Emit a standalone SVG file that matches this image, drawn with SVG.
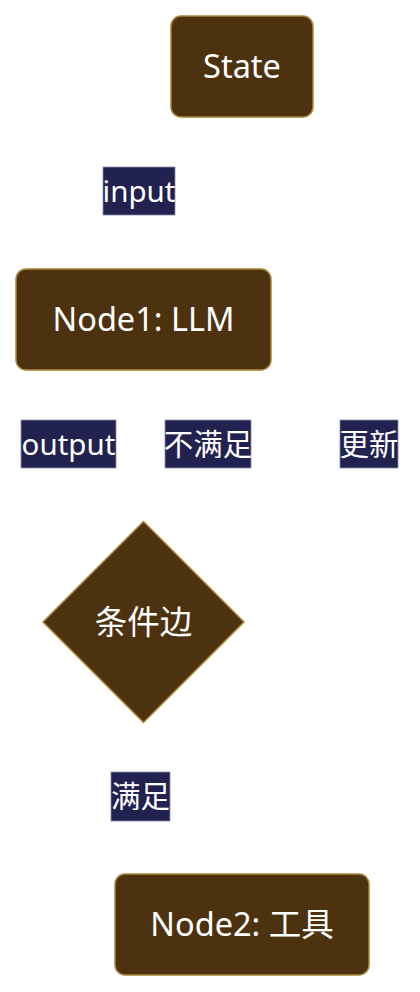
<svg xmlns="http://www.w3.org/2000/svg" width="420" height="992" viewBox="0 0 420 992">
<style>
.node{fill:#4d3210;stroke:#a8873a;stroke-width:1.5}
.lbl{fill:#222250;stroke:#8a8aa8;stroke-width:0.8}
.nt{fill:#ffffff;font-family:"Noto Sans","Noto Sans CJK SC",sans-serif;font-size:32.5px;text-anchor:middle}
.lt{fill:#ffffff;font-family:"Noto Sans","Noto Sans CJK SC",sans-serif;font-size:29.5px;text-anchor:middle}
</style>
<rect width="420" height="992" fill="#ffffff"/>
<g id="connectors"></g>
<g id="node-state">
<rect class="node" x="171" y="16" width="142" height="101" rx="10"/>
<text class="nt" x="242" y="78">State</text>
</g>
<g id="node-llm">
<rect class="node" x="16" y="269" width="255" height="101" rx="10"/>
<text class="nt" x="143.5" y="331">Node1: LLM</text>
</g>
<g id="node-cond">
<polygon class="node" points="143.5,521.5 244,622 143.5,722.5 43,622"/>
<text class="nt" x="143.5" y="634">条件边</text>
</g>
<g id="node-tool">
<rect class="node" x="115" y="874" width="254" height="101" rx="10"/>
<text class="nt" x="242" y="936">Node2: 工具</text>
</g>
<g id="labels">
<g id="label-input"><rect class="lbl" x="103" y="167" width="72" height="48"/><text class="lt" x="139" y="201.5">input</text></g>
<g id="label-output"><rect class="lbl" x="21" y="420" width="95" height="48"/><text class="lt" x="68.5" y="454.5">output</text></g>
<g id="label-notmet"><rect class="lbl" x="165" y="420" width="86" height="48"/><text class="lt" x="208" y="455">不满足</text></g>
<g id="label-update"><rect class="lbl" x="340" y="420" width="58" height="48"/><text class="lt" x="369" y="455">更新</text></g>
<g id="label-met"><rect class="lbl" x="111" y="772" width="59" height="49"/><text class="lt" x="140.5" y="807">满足</text></g>
</g>
</svg>
